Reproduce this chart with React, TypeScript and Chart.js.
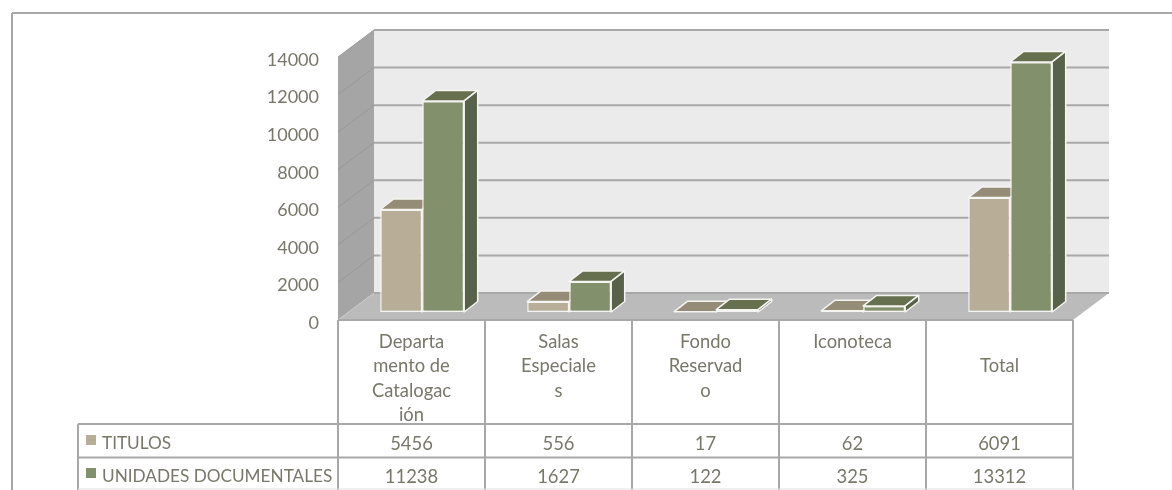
import React, { useEffect, useRef } from "react";
import { Chart, registerables } from "chart.js";

Chart.register(...registerables);

const categories = [
  ["Departa", "mento de", "Catalogac", "ión"],
  ["Salas", "Especiale", "s"],
  ["Fondo", "Reservad", "o"],
  ["Iconoteca"],
  ["", "Total"],
];
const titulos = [5456, 556, 17, 62, 6091];
const unidades = [11238, 1627, 122, 325, 13312];
const seriesNames = ["TITULOS", "UNIDADES DOCUMENTALES"];
const yTicks = [0, 2000, 4000, 6000, 8000, 10000, 12000, 14000];

const FONT = "Lato, Carlito, Calibri, sans-serif";
const TEXT = "#78776A";
const LINE = "#A8A8A8";
const FRONT = ["#B8AE97", "#82916B"];
const TOP = ["#948C76", "#66704F"];
const SIDE = ["#7F7965", "#58624A"];
const DEPTH = { x: 36, y: -27 };
const BAR_SHIFT = { x: 10.7, y: -8 };
const BAR_DEPTH = { x: 13.5, y: -10.5 };

const poly = (ctx: CanvasRenderingContext2D, pts: number[][], fill: string, stroke?: string, lw = 1) => {
  ctx.beginPath();
  pts.forEach((p, i) => (i ? ctx.lineTo(p[0], p[1]) : ctx.moveTo(p[0], p[1])));
  ctx.closePath();
  ctx.fillStyle = fill;
  ctx.fill();
  if (stroke) {
    ctx.strokeStyle = stroke;
    ctx.lineWidth = lw;
    ctx.lineJoin = "round";
    ctx.stroke();
  }
};

const seg = (ctx: CanvasRenderingContext2D, x1: number, y1: number, x2: number, y2: number, color = LINE, lw = 2) => {
  ctx.beginPath();
  ctx.moveTo(x1, y1);
  ctx.lineTo(x2, y2);
  ctx.strokeStyle = color;
  ctx.lineWidth = lw;
  ctx.stroke();
};

const drawBars = (chart: any, i: number) => {
  const { ctx } = chart;
  const b = BAR_DEPTH;
  const meta = chart.getDatasetMeta(i);
  ctx.save();
  ctx.translate(BAR_SHIFT.x, BAR_SHIFT.y);
  meta.controller.draw();
  meta.data.forEach((el: any) => {
    const l = el.x - el.width / 2;
    const r = el.x + el.width / 2;
    const t = el.y;
    const base = el.base;
    poly(ctx, [[l, t], [l + b.x, t + b.y], [r + b.x, t + b.y], [r, t]], TOP[i], "#F4F4F0", 1.5);
    poly(ctx, [[r, t], [r + b.x, t + b.y], [r + b.x, base + b.y], [r, base]], SIDE[i], "#F4F4F0", 1.5);
  });
  ctx.restore();
};

const scene3d = {
  id: "scene3d",
  beforeDraw(chart: any) {
    const { ctx, chartArea: a, scales } = chart;
    const y0 = a.bottom;
    const yt = a.top;
    const d = DEPTH;
    ctx.save();
    seg(ctx, 12, 13, 1172, 13);
    seg(ctx, 12, 13, 12, 490);
    poly(ctx, [[a.left + d.x, yt + d.y], [a.right + d.x, yt + d.y], [a.right + d.x, y0 + d.y], [a.left + d.x, y0 + d.y]], "#EBEBEB");
    poly(ctx, [[a.left, yt], [a.left + d.x, yt + d.y], [a.left + d.x, y0 + d.y], [a.left, y0]], "#A5A5A5");
    poly(ctx, [[a.left, y0], [a.left + d.x, y0 + d.y], [a.right + d.x, y0 + d.y], [a.right, y0]], "#BBBBBB");
    yTicks.forEach((v) => {
      const py = scales.y.getPixelForValue(v);
      seg(ctx, a.left + d.x, py + d.y, a.right + d.x, py + d.y);
      if (v > 0) seg(ctx, a.left, py, a.left + d.x, py + d.y, "#999999", 1);
    });
    seg(ctx, a.left, y0, a.left + d.x, y0 + d.y, "#C8C8C8", 1);
    seg(ctx, a.left, y0, a.right, y0);
    ctx.restore();
  },
  beforeDatasetDraw(chart: any, args: any) {
    // Chart.js paints the first dataset last; the front series must paint on top of the first.
    if (args.index === 1) {
      drawBars(chart, 0);
      drawBars(chart, 1);
    }
    return false;
  },
  afterDraw(chart: any) {
    const { ctx, chartArea: a, scales } = chart;
    const x = scales.x;
    const rowYs = [424, 457.5];
    const rowText = [443, 476];
    const legendLeft = 78;
    const cell = (a.right - a.left) / categories.length;
    ctx.save();
    for (let i = 0; i <= categories.length; i++) {
      const px = a.left + i * cell;
      seg(ctx, px, a.bottom, px, 490);
    }
    seg(ctx, legendLeft, rowYs[0], legendLeft, 490);
    rowYs.forEach((py) => seg(ctx, legendLeft, py, a.right, py));
    seg(ctx, legendLeft, 489, a.right, 489, "#E2E2E2", 1);
    ctx.textBaseline = "middle";
    [titulos, unidades].forEach((vals, r) => {
      ctx.fillStyle = FRONT[r];
      ctx.fillRect(86, rowText[r] - 8, 10, 10);
      ctx.fillStyle = TEXT;
      ctx.textAlign = "left";
      ctx.font = `17.2px ${FONT}`;
      ctx.fillText(seriesNames[r], 102, rowText[r]);
      ctx.textAlign = "center";
      ctx.font = `18.4px ${FONT}`;
      vals.forEach((v, c) => ctx.fillText(String(v), x.getPixelForTick(c), rowText[r] + 1));
    });
    ctx.restore();
  },
};

export default function App() {
  const ref = useRef<HTMLCanvasElement>(null);
  useEffect(() => {
    const bar = {
      borderColor: "#F4F4F0",
      borderWidth: 1.5,
      borderSkipped: false,
      barPercentage: 1,
      categoryPercentage: 84 / 147,
      clip: false,
    };
    const chart = new Chart(ref.current!, {
      type: "bar",
      data: {
        labels: categories,
        datasets: [
          { label: seriesNames[0], data: titulos, backgroundColor: FRONT[0], ...bar },
          { label: seriesNames[1], data: unidades, backgroundColor: FRONT[1], ...bar },
        ],
      },
      options: {
        animation: false,
        responsive: false,
        layout: { padding: { left: 0, top: 57, right: 99, bottom: 0 } },
        plugins: { legend: { display: false }, tooltip: { enabled: false } },
        scales: {
          x: {
            grid: { display: false, drawTicks: false },
            border: { display: false },
            ticks: {
              autoSkip: false,
              maxRotation: 0,
              minRotation: 0,
              padding: 10,
              color: TEXT,
              font: { family: FONT, size: 18.4, lineHeight: 1.32 },
            },
            afterFit: (s: any) => {
              s.height = 170;
              s.paddingLeft = s.paddingRight = 0;
            },
          },
          y: {
            min: 0,
            max: 14000,
            afterBuildTicks: (s: any) => {
              s.ticks = yTicks.map((value) => ({ value }));
            },
            grid: { display: false, drawTicks: false },
            border: { display: false },
            ticks: {
              padding: 19,
              labelOffset: 3,
              color: TEXT,
              font: { family: FONT, size: 18 },
              callback: (v: any) => String(v),
            },
            afterFit: (s: any) => {
              s.width = 338;
              s.paddingTop = s.paddingBottom = 0;
            },
          },
        },
      },
      plugins: [scene3d],
    } as any);
    return () => chart.destroy();
  }, []);
  return (
    <canvas
      ref={ref}
      width={1172}
      height={490}
      style={{ position: "absolute", left: 0, top: 0, display: "block", background: "#fff" }}
    />
  );
}
